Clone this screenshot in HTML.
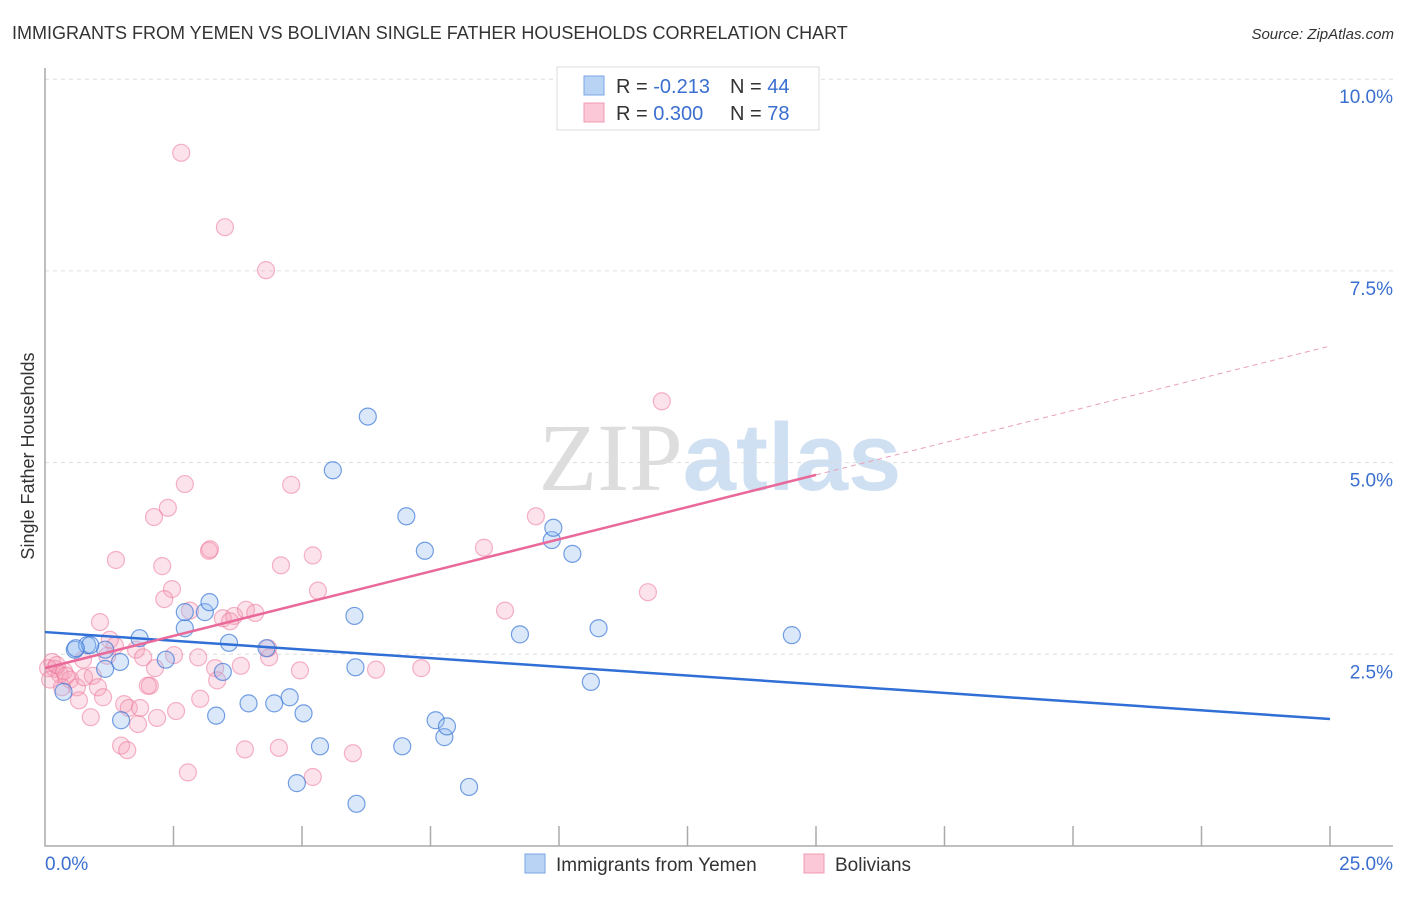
<!DOCTYPE html>
<html><head><meta charset="utf-8"><style>
body{margin:0;background:#fff;font-family:"Liberation Sans",sans-serif;}
svg text{font-family:"Liberation Sans",sans-serif;}
</style></head><body>
<svg id="chart" width="1406" height="892" xmlns="http://www.w3.org/2000/svg">
<text x="12" y="39" font-size="18" fill="#333">IMMIGRANTS FROM YEMEN VS BOLIVIAN SINGLE FATHER HOUSEHOLDS CORRELATION CHART</text>
<text x="1394" y="39" font-size="15" font-style="italic" fill="#333" text-anchor="end">Source: ZipAtlas.com</text>
<text x="720" y="490" font-size="96" text-anchor="middle"><tspan fill="#ddd" font-family="Liberation Serif">ZIP</tspan><tspan fill="#cfe0f2" font-weight="bold">atlas</tspan></text>
<g id="grid"></g><g id="axes"></g><g id="pts"></g><g id="lines"></g>
<text transform="translate(34,456) rotate(-90)" font-size="18" fill="#333" text-anchor="middle">Single Father Households</text>
<g>
<rect x="557" y="67" width="262" height="63" fill="#fff" stroke="#ddd"/>
<rect x="584" y="76" width="20" height="19" fill="#b9d3f5" stroke="#7aa6e6"/>
<rect x="584" y="103" width="20" height="19" fill="#fac8d6" stroke="#f09ab3"/>
<text x="616" y="93" font-size="20" fill="#333">R = <tspan fill="#3a6fd0">-0.213</tspan><tspan x="730">N = </tspan><tspan fill="#3a6fd0">44</tspan></text>
<text x="616" y="120" font-size="20" fill="#333">R = <tspan fill="#3a6fd0"> 0.300</tspan><tspan x="730">N = </tspan><tspan fill="#3a6fd0"> 78</tspan></text>
</g>
<g>
<rect x="525" y="854" width="20" height="19" fill="#b9d3f5" stroke="#7aa6e6"/>
<text x="556" y="871" font-size="19" fill="#333">Immigrants from Yemen</text>
<rect x="804" y="854" width="20" height="19" fill="#fac8d6" stroke="#f09ab3"/>
<text x="835" y="871" font-size="19" fill="#333">Bolivians</text>
</g>
</svg>
<script>
const yTicks=[2.5,5,7.5,10];
const yTickLabels=["2.5%","5.0%","7.5%","10.0%"];
const xTickLabels=["0.0%","25.0%"];
const blueX=[0.36,0.58,0.82,1.17,1.46,1.84,2.35,2.72,2.72,3.11,3.58,4.76,4.31,4.46,5.35,5.6,6.02,6.04,6.28,6.06,6.95,7.03,7.39,7.77,9.86,9.89,10.26,10.62,10.77,3.33,1.48,0.88,4.9,5.03,7.6,7.82,8.25,3.96,9.24,14.53,3.2,0.6,3.46,1.17];
const blueY=[2.01,2.56,2.62,2.56,2.4,2.71,2.43,2.84,3.05,3.05,2.65,1.94,2.58,1.86,1.3,4.9,3.0,2.33,5.6,0.55,1.3,4.3,3.85,1.42,3.99,4.15,3.81,2.14,2.84,1.7,1.64,2.62,0.82,1.73,1.64,1.56,0.77,1.86,2.76,2.75,3.18,2.58,2.27,2.31];
const pinkX=[2.65,3.5,4.3,12.0,9.55,4.79,2.72,2.39,2.12,1.38,2.28,3.19,5.21,4.59,8.54,2.47,2.32,2.82,3.46,3.68,3.91,5.31,8.95,11.73,1.07,1.36,1.77,1.21,1.91,2.51,2.98,2.14,3.31,3.81,4.36,4.96,6.44,7.32,4.34,0.14,0.19,0.29,0.37,0.49,0.62,0.33,0.76,0.93,1.03,0.66,1.13,1.54,1.63,1.85,2.04,2.0,3.35,3.02,0.89,1.81,2.18,2.55,1.48,1.6,3.89,4.55,2.78,5.21,5.99,0.06,0.1,0.23,0.41,0.74,1.26,3.21,3.6,4.09];
const pinkY=[9.04,8.07,7.51,5.8,4.3,4.71,4.72,4.41,4.29,3.73,3.65,3.85,3.79,3.66,3.89,3.35,3.22,3.07,2.97,3.0,3.08,3.33,3.07,3.31,2.92,2.61,2.56,2.48,2.46,2.49,2.46,2.32,2.32,2.35,2.46,2.29,2.3,2.32,2.58,2.4,2.31,2.24,2.28,2.17,2.07,2.07,2.2,2.22,2.07,1.9,1.94,1.85,1.8,1.8,2.09,2.09,2.16,1.92,1.68,1.59,1.67,1.76,1.31,1.25,1.26,1.28,0.96,0.9,1.21,2.32,2.17,2.36,2.22,2.43,2.69,3.87,2.93,3.04];
const blueLine=[2.79,1.656];
const pinkLine=[2.32,0.168];
const pinkSolidEnd=15;
const X0=45,X1=1330,Y0=846,YPER=191.7/2.5;
const sx=v=>X0+(X1-X0)*v/25, sy=v=>Y0-v*YPER;
const NS='http://www.w3.org/2000/svg';
function mk(t,a,p){const e=document.createElementNS(NS,t);for(const k in a)e.setAttribute(k,a[k]);p.appendChild(e);return e;}
const grid=document.getElementById('grid'),axes=document.getElementById('axes'),pts=document.getElementById('pts'),lines=document.getElementById('lines');
yTicks.forEach((v,i)=>{
 const l=mk('line',{x1:45,x2:1393,y1:sy(v),y2:sy(v),stroke:'#ddd','stroke-dasharray':'4,4'},grid);
 
 
 const t=mk('text',{x:1393,y:sy(v)+24,'font-size':19,fill:'#3a6fd0','text-anchor':'end'},grid);
 t.textContent=yTickLabels[i];
 
 
});
const ax=mk('path',{d:`M45,68V${Y0}H1393`,stroke:'#aaa',fill:'none','stroke-width':1.5},axes);


for(let i=1;i<=10;i++){const tk=mk('line',{x1:sx(i*2.5),x2:sx(i*2.5),y1:826,y2:Y0,stroke:'#aaa','stroke-width':1.5},axes);
 
 }
const xl0=mk('text',{x:45,y:870,'font-size':19,fill:'#3a6fd0'},axes);xl0.textContent=xTickLabels[0];


const xl1=mk('text',{x:1393,y:870,'font-size':19,fill:'#3a6fd0','text-anchor':'end'},axes);xl1.textContent=xTickLabels[1];


pinkX.forEach((x,i)=>{const c=mk('circle',{cx:sx(x),cy:sy(pinkY[i]),r:8.5,fill:'rgba(246,160,186,0.3)',stroke:'rgba(236,120,155,0.55)','stroke-width':1.2},pts);
 
 });
blueX.forEach((x,i)=>{const c=mk('circle',{cx:sx(x),cy:sy(blueY[i]),r:8.5,fill:'rgba(150,190,240,0.35)',stroke:'rgba(60,120,215,0.7)','stroke-width':1.2},pts);
 
 });
const bl=mk('line',{x1:sx(0),y1:sy(blueLine[0]),x2:sx(25),y2:sy(blueLine[1]),stroke:'#2f6fd6','stroke-width':2.5},lines);


const pl=mk('line',{x1:sx(0),y1:sy(pinkLine[0]),x2:sx(pinkSolidEnd),y2:sy(pinkLine[0]+pinkLine[1]*pinkSolidEnd),stroke:'#e8699a','stroke-width':2.5},lines);


const pd=mk('line',{x1:sx(pinkSolidEnd),y1:sy(pinkLine[0]+pinkLine[1]*pinkSolidEnd),x2:sx(25),y2:sy(pinkLine[0]+pinkLine[1]*25),stroke:'#e8a0b8','stroke-width':1,'stroke-dasharray':'5,4'},lines);


</script>
</body></html>
